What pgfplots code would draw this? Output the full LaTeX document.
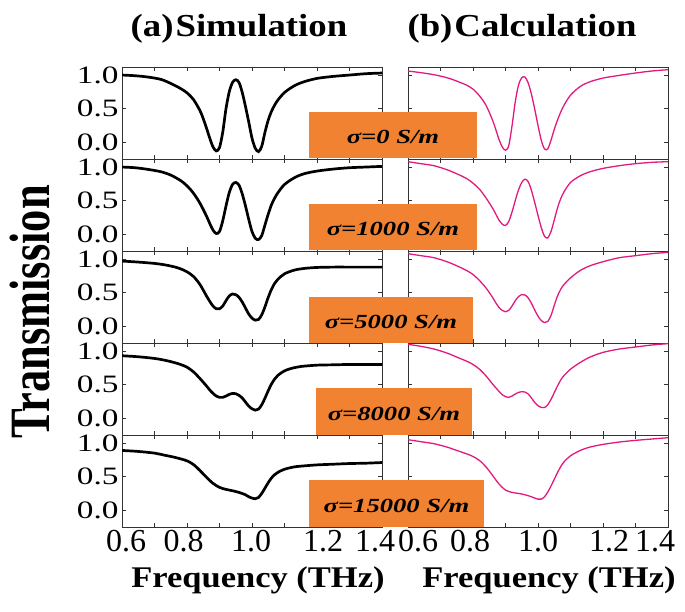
\documentclass[border=0pt]{standalone}
\usepackage{pgfplots}
\pgfplotsset{compat=1.18}
\usepackage{fontspec}
\setmainfont{Liberation Serif}
\newfontfamily\panelfont[FakeStretch=1.33]{Liberation Serif}
\newfontfamily\titlefont[FakeStretch=1.15]{Liberation Serif}
\definecolor{mag}{RGB}{226,26,126}
\definecolor{boxor}{RGB}{240,130,50}
\pgfplotsset{
  panel/.style={scale only axis, width=260pt, height=92pt,
    xmin=0.6, xmax=1.4, ymin=-0.25, ymax=1.12,
    xtick={0.6,0.7,0.8,0.9,1.0,1.1,1.2,1.3,1.4}, ytick={0,0.5,1},
    xticklabels={}, yticklabels={},
    tick align=inside, tick pos=both, major tick length=4pt,
    axis line style={black!80, line width=0.8pt},
    every tick/.style={black!80, line width=0.6pt},
    anchor=north west},
  leftp/.style={panel, yticklabels={0.0,0.5,1.0},
    yticklabel style={font=\panelfont\fontsize{25}{25}\selectfont}},
  rightp/.style={panel},
  botl/.style={xticklabels={{\hspace*{8pt}0.6},,{0.8\hspace*{7pt}},,{1.0\hspace*{2pt}},,{\hspace*{12pt}1.2},,{1.4\hspace*{14pt}}},
    xticklabel style={font=\fontsize{32}{32}\selectfont}},
  botr/.style={xticklabels={{\hspace*{20pt}0.6},,{0.8\hspace*{6pt}},,{1.0},,{\hspace*{12pt}1.2},,{1.4\hspace*{26pt}}},
    xticklabel style={font=\fontsize{32}{32}\selectfont}},
  sim/.style={black, line width=2.7pt, smooth, no markers},
  calc/.style={mag, line width=1.3pt, smooth, no markers},
}
\begin{document}
\begin{tikzpicture}
\path[use as bounding box] (0pt,0pt) rectangle (685pt,612pt);
% ---------- Row 1 : sigma = 0
\begin{axis}[leftp, at={(122pt,545pt)}]
\addplot[sim] coordinates {(0.60,1.00)(0.64,0.99)(0.68,0.97)(0.72,0.935)(0.75,0.875)(0.78,0.80)(0.80,0.735)(0.82,0.635)(0.84,0.47)(0.85,0.35)(0.86,0.21)(0.87,0.06)(0.88,-0.07)(0.89,-0.13)(0.90,-0.08)(0.91,0.15)(0.92,0.50)(0.93,0.75)(0.94,0.89)(0.95,0.93)(0.96,0.89)(0.97,0.74)(0.98,0.53)(0.99,0.30)(1.00,0.06)(1.01,-0.09)(1.02,-0.14)(1.03,-0.06)(1.04,0.15)(1.05,0.33)(1.06,0.46)(1.07,0.555)(1.08,0.63)(1.10,0.74)(1.13,0.84)(1.16,0.90)(1.20,0.95)(1.25,0.98)(1.30,1.00)(1.35,1.02)(1.40,1.03)};
\end{axis}
\begin{axis}[rightp, at={(408pt,545pt)}]
\addplot[calc] coordinates {(0.60,1.06)(0.64,1.035)(0.68,1.005)(0.72,0.96)(0.75,0.91)(0.78,0.85)(0.80,0.79)(0.82,0.69)(0.84,0.55)(0.86,0.33)(0.87,0.19)(0.88,0.04)(0.89,-0.07)(0.90,-0.12)(0.91,-0.05)(0.92,0.24)(0.93,0.60)(0.94,0.85)(0.95,0.96)(0.96,0.97)(0.97,0.88)(0.98,0.71)(0.99,0.49)(1.00,0.25)(1.01,0.03)(1.02,-0.10)(1.03,-0.10)(1.04,0.03)(1.05,0.19)(1.06,0.33)(1.07,0.45)(1.08,0.55)(1.10,0.70)(1.13,0.83)(1.16,0.90)(1.20,0.955)(1.25,0.995)(1.30,1.03)(1.35,1.06)(1.40,1.08)};
\end{axis}
% ---------- Row 2 : sigma = 1000
\begin{axis}[leftp, at={(122pt,453pt)}]
\addplot[sim] coordinates {(0.60,1.00)(0.64,0.99)(0.68,0.965)(0.72,0.93)(0.75,0.88)(0.78,0.80)(0.80,0.72)(0.82,0.61)(0.84,0.46)(0.86,0.27)(0.87,0.16)(0.88,0.06)(0.89,0.01)(0.90,0.04)(0.91,0.20)(0.92,0.42)(0.93,0.62)(0.94,0.74)(0.95,0.77)(0.96,0.73)(0.97,0.60)(0.98,0.42)(0.99,0.22)(1.00,0.04)(1.01,-0.06)(1.02,-0.08)(1.03,-0.02)(1.04,0.14)(1.05,0.30)(1.06,0.44)(1.07,0.54)(1.08,0.62)(1.10,0.74)(1.13,0.84)(1.16,0.90)(1.20,0.94)(1.25,0.97)(1.30,0.99)(1.35,1.00)(1.40,1.01)};
\end{axis}
\begin{axis}[rightp, at={(408pt,453pt)}]
\addplot[calc] coordinates {(0.60,1.08)(0.64,1.05)(0.68,1.02)(0.72,0.96)(0.75,0.90)(0.78,0.83)(0.80,0.76)(0.82,0.67)(0.84,0.54)(0.86,0.39)(0.87,0.30)(0.88,0.21)(0.89,0.15)(0.90,0.13)(0.91,0.19)(0.92,0.33)(0.93,0.50)(0.94,0.66)(0.95,0.77)(0.96,0.82)(0.97,0.78)(0.98,0.65)(0.99,0.47)(1.00,0.28)(1.01,0.10)(1.02,-0.03)(1.03,-0.055)(1.04,0.04)(1.05,0.21)(1.06,0.39)(1.07,0.53)(1.08,0.63)(1.10,0.77)(1.13,0.87)(1.16,0.93)(1.20,0.98)(1.25,1.02)(1.30,1.05)(1.35,1.07)(1.40,1.08)};
\end{axis}
% ---------- Row 3 : sigma = 5000
\begin{axis}[leftp, at={(122pt,361pt)}]
\addplot[sim] coordinates {(0.60,0.97)(0.65,0.955)(0.70,0.935)(0.73,0.915)(0.76,0.885)(0.78,0.855)(0.80,0.81)(0.82,0.74)(0.84,0.62)(0.86,0.45)(0.87,0.37)(0.88,0.30)(0.89,0.26)(0.90,0.26)(0.91,0.30)(0.92,0.38)(0.93,0.45)(0.94,0.48)(0.95,0.47)(0.96,0.43)(0.97,0.36)(0.98,0.27)(0.99,0.18)(1.00,0.12)(1.01,0.09)(1.02,0.10)(1.03,0.17)(1.04,0.29)(1.05,0.43)(1.06,0.55)(1.07,0.64)(1.08,0.70)(1.10,0.78)(1.13,0.835)(1.16,0.86)(1.20,0.875)(1.25,0.88)(1.30,0.88)(1.40,0.88)};
\end{axis}
\begin{axis}[rightp, at={(408pt,361pt)}]
\addplot[calc] coordinates {(0.60,1.08)(0.64,1.05)(0.68,1.02)(0.72,0.96)(0.75,0.90)(0.78,0.83)(0.80,0.77)(0.82,0.68)(0.84,0.57)(0.86,0.43)(0.87,0.35)(0.88,0.28)(0.89,0.235)(0.90,0.215)(0.91,0.235)(0.92,0.30)(0.93,0.38)(0.94,0.44)(0.95,0.47)(0.96,0.465)(0.97,0.42)(0.98,0.34)(0.99,0.24)(1.00,0.15)(1.01,0.085)(1.02,0.055)(1.03,0.07)(1.04,0.16)(1.05,0.31)(1.06,0.45)(1.07,0.55)(1.08,0.62)(1.10,0.72)(1.13,0.83)(1.16,0.90)(1.20,0.96)(1.25,1.02)(1.30,1.05)(1.35,1.08)(1.40,1.10)};
\end{axis}
% ---------- Row 4 : sigma = 8000
\begin{axis}[leftp, at={(122pt,269pt)}]
\addplot[sim] coordinates {(0.60,0.93)(0.65,0.915)(0.70,0.89)(0.73,0.865)(0.76,0.83)(0.78,0.80)(0.80,0.76)(0.82,0.69)(0.84,0.59)(0.86,0.48)(0.87,0.42)(0.88,0.37)(0.89,0.33)(0.90,0.31)(0.91,0.31)(0.92,0.33)(0.93,0.355)(0.94,0.37)(0.95,0.365)(0.96,0.34)(0.97,0.30)(0.98,0.24)(0.99,0.18)(1.00,0.14)(1.01,0.12)(1.02,0.135)(1.03,0.20)(1.04,0.30)(1.05,0.41)(1.06,0.51)(1.07,0.585)(1.08,0.64)(1.10,0.705)(1.12,0.74)(1.15,0.77)(1.20,0.79)(1.25,0.795)(1.30,0.80)(1.40,0.80)};
\end{axis}
\begin{axis}[rightp, at={(408pt,269pt)}]
\addplot[calc] coordinates {(0.60,1.10)(0.64,1.07)(0.68,1.03)(0.72,0.97)(0.75,0.91)(0.78,0.85)(0.80,0.80)(0.82,0.73)(0.84,0.63)(0.86,0.51)(0.88,0.40)(0.89,0.35)(0.90,0.32)(0.91,0.31)(0.92,0.33)(0.93,0.36)(0.94,0.385)(0.95,0.395)(0.96,0.39)(0.97,0.36)(0.98,0.30)(0.99,0.235)(1.00,0.185)(1.01,0.16)(1.02,0.16)(1.03,0.20)(1.04,0.28)(1.05,0.38)(1.06,0.48)(1.07,0.57)(1.08,0.635)(1.10,0.73)(1.13,0.83)(1.16,0.91)(1.20,0.98)(1.25,1.03)(1.30,1.06)(1.35,1.09)(1.40,1.11)};
\end{axis}
% ---------- Row 5 : sigma = 15000
\begin{axis}[leftp, botl, at={(122pt,177pt)}]
\addplot[sim] coordinates {(0.60,0.89)(0.65,0.875)(0.70,0.85)(0.73,0.82)(0.76,0.79)(0.78,0.765)(0.80,0.735)(0.82,0.68)(0.84,0.59)(0.86,0.49)(0.88,0.40)(0.90,0.34)(0.92,0.31)(0.94,0.29)(0.96,0.265)(0.98,0.23)(0.99,0.20)(1.00,0.18)(1.01,0.17)(1.02,0.19)(1.03,0.25)(1.04,0.33)(1.05,0.41)(1.06,0.48)(1.07,0.53)(1.08,0.565)(1.10,0.61)(1.13,0.645)(1.16,0.66)(1.20,0.675)(1.25,0.685)(1.30,0.695)(1.35,0.70)(1.40,0.71)};
\end{axis}
\begin{axis}[rightp, botr, at={(408pt,177pt)}]
\addplot[calc] coordinates {(0.60,1.05)(0.64,1.02)(0.68,0.99)(0.72,0.94)(0.75,0.89)(0.78,0.84)(0.80,0.80)(0.82,0.74)(0.84,0.645)(0.86,0.52)(0.88,0.39)(0.90,0.30)(0.92,0.265)(0.94,0.25)(0.96,0.23)(0.98,0.20)(0.99,0.18)(1.00,0.165)(1.01,0.165)(1.02,0.20)(1.03,0.27)(1.04,0.36)(1.05,0.46)(1.06,0.56)(1.07,0.65)(1.08,0.72)(1.10,0.81)(1.13,0.89)(1.16,0.94)(1.20,0.98)(1.25,1.015)(1.30,1.04)(1.35,1.06)(1.40,1.08)};
\end{axis}
% ---------- orange labels
\begin{scope}[every node/.style={font=\panelfont\bfseries\itshape\fontsize{20}{20}\selectfont, inner sep=0pt}]
\fill[boxor] (309pt,454pt) rectangle (477pt,500pt);
\node at (393pt,475pt) {σ=0 S/m};
\fill[boxor] (309pt,362pt) rectangle (477pt,408pt);
\node at (393pt,383pt) {σ=1000 S/m};
\fill[boxor] (309pt,269pt) rectangle (473pt,315pt);
\node at (391pt,290pt) {σ=5000 S/m};
\fill[boxor] (316pt,177pt) rectangle (472pt,224pt);
\node at (394pt,198pt) {σ=8000 S/m};
\fill[boxor] (309pt,85pt) rectangle (484pt,132pt);
\node at (396.5pt,106pt) {σ=15000 S/m};
\end{scope}
% ---------- titles and axis labels
\node[anchor=base, font=\titlefont\bfseries\fontsize{32}{32}\selectfont, inner sep=0pt] at (239pt,575pt) {(a)\hspace{2pt}Simulation};
\node[anchor=base, font=\titlefont\bfseries\fontsize{32}{32}\selectfont, inner sep=0pt] at (522pt,575pt) {(b)\hspace{2pt}Calculation};
\node[anchor=base, font=\titlefont\bfseries\fontsize{30}{30}\selectfont, inner sep=0pt] at (258pt,24pt) {Frequency (THz)};
\node[anchor=base, font=\titlefont\bfseries\fontsize{30}{30}\selectfont, inner sep=0pt] at (549pt,24pt) {Frequency (THz)};
\node[rotate=90, inner sep=0pt] at (30pt,300pt) {\scalebox{0.78}[1]{\bfseries\fontsize{57}{57}\selectfont Transmission}};
\end{tikzpicture}
\end{document}
